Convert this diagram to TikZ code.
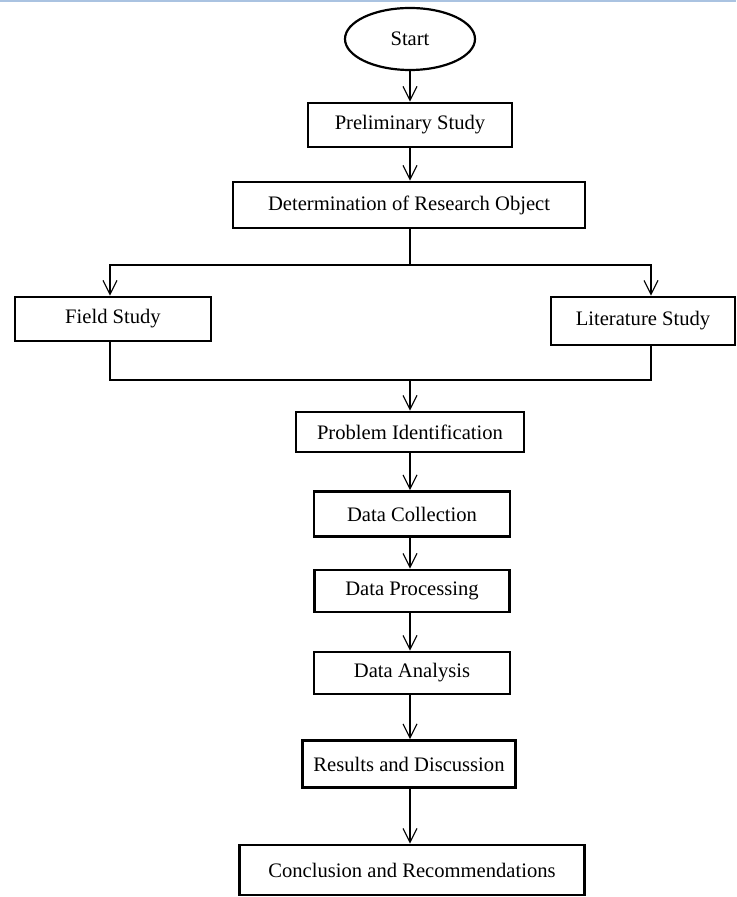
\documentclass[tikz,border=0pt]{standalone}
\usepackage{fontspec}
\setmainfont{Liberation Serif}
\usetikzlibrary{arrows.meta,shapes.geometric}
\definecolor{topblue}{RGB}{170,195,225}

\begin{document}
\begin{tikzpicture}[x=0.5pt,y=-0.5pt,
  every node/.style={font=\fontsize{10.3}{12}\selectfont,inner sep=0pt},
  box/.style={draw,line width=1.4pt},
  startnode/.style={draw,ellipse,line width=1.1pt,minimum width=65pt,minimum height=31pt},
  link/.style={line width=0.55pt},
  arr/.style={link,-{Straight Barb[length=7pt,width=7pt]}}]
  \useasboundingbox (0,0) rectangle (736,897);
  \draw[topblue,line width=1pt] (0,1) -- (736,1);

  \node[startnode] (start) at (410,39) {Start};
  \node[box,minimum width=102pt,minimum height=22pt] (pre) at (410,125)
    {Preliminary Study};
  \node[box,minimum width=176pt,minimum height=23pt] (det) at (409,205)
    {Determination  of Research Object};

  \node[box,minimum width=98pt,minimum height=22pt] (field) at (113,319)
    {Field Study};
  \node[box,minimum width=92pt,minimum height=24pt] (lit) at (643,321)
    {Literature Study};

  \node[box,minimum width=114pt,minimum height=20pt] (prob) at (410,432)
    {Problem Identification};
  \node[box,minimum width=98pt,minimum height=22.5pt] (coll) at (412,514)
    {Data Collection};
  \node[box,minimum width=97.5pt,minimum height=21pt] (proc) at (412,591)
    {Data Processing};
  \node[box,minimum width=98pt,minimum height=21pt] (anal) at (412,673)
    {Data Analysis};
  \node[box,minimum width=106.5pt,minimum height=23.5pt] (res) at (409,764)
    {Results and Discussion};
  \node[box,minimum width=172.5pt,minimum height=25pt] (conc) at (412,870)
    {Conclusion and Recommendations};

  % split and join points
  \coordinate (split) at (410,265);
  \coordinate (splitl) at (110,265);
  \coordinate (splitr) at (651,265);
  \coordinate (join) at (410,380);
  \coordinate (joinl) at (110,380);
  \coordinate (joinr) at (651,380);

  \draw[arr] (start) -- (pre);
  \draw[arr] (pre) -- (pre |- det.north);
  \draw[link] (det.south -| split) -- (split);
  \draw[arr] (split) -- (splitl) -- (splitl |- field.north);
  \draw[arr] (split) -- (splitr) -- (splitr |- lit.north);
  \draw[link] (splitl |- field.south) -- (joinl) -- (joinr) -- (splitr |- lit.south);
  \draw[arr] (join) -- (join |- prob.north);
  \draw[arr] (prob.south) -- (prob.south |- coll.north);
  \draw[arr] (prob.south |- coll.south) -- (prob.south |- proc.north);
  \draw[arr] (prob.south |- proc.south) -- (prob.south |- anal.north);
  \draw[arr] (prob.south |- anal.south) -- (prob.south |- res.north);
  \draw[arr] (prob.south |- res.south) -- (prob.south |- conc.north);
\end{tikzpicture}
\end{document}
